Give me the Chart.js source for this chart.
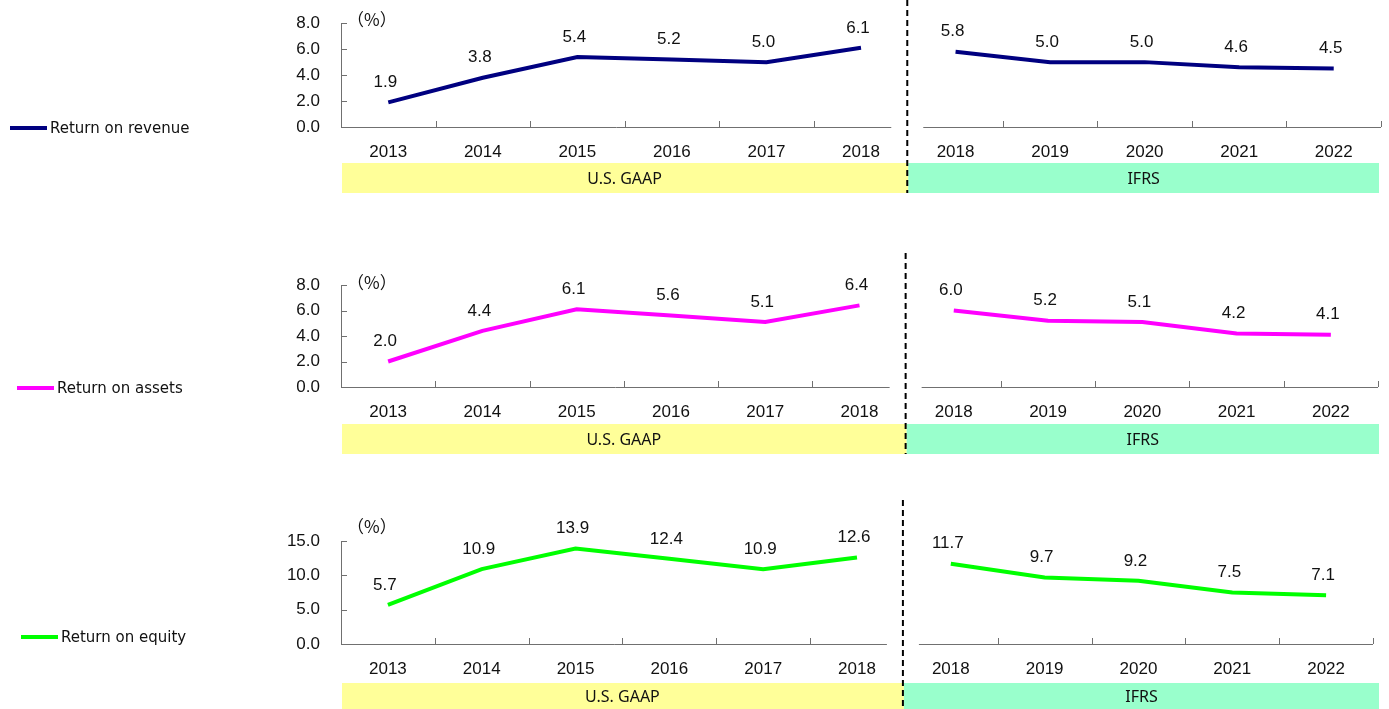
<!DOCTYPE html>
<html>
<head>
<meta charset="utf-8">
<script src="https://cdn.jsdelivr.net/npm/chart.js@4"></script>
<style>
  body { margin: 0; background: #fff; }
  .row { position: absolute; left: 0; width: 1389px; }
</style>
</head>
<body>
<div class="row" style="top:0px;height:230px"><canvas id="revChart"></canvas></div>
<div class="row" style="top:240px;height:240px"><canvas id="assetChart"></canvas></div>
<div class="row" style="top:490px;height:219px"><canvas id="equityChart"></canvas></div>
<script>
// years on each side of the accounting change
const gaapYears = ['2013', '2014', '2015', '2016', '2017', '2018']
const ifrsYears = ['2018', '2019', '2020', '2021', '2022']

// return on revenue (%)
const revenueGaap = [1.9, 3.8, 5.4, 5.2, 5.0, 6.1]
const revenueIfrs = [5.8, 5.0, 5.0, 4.6, 4.5]
// return on assets (%)
const assetsGaap = [2.0, 4.4, 6.1, 5.6, 5.1, 6.4]
const assetsIfrs = [6.0, 5.2, 5.1, 4.2, 4.1]
// return on equity (%)
const equityGaap = [5.7, 10.9, 13.9, 12.4, 10.9, 12.6]
const equityIfrs = [11.7, 9.7, 9.2, 7.5, 7.1]

const yTicksSmall = [0, 2, 4, 6, 8]
const yTicksEquity = [0, 5, 10, 15]

const bandLabels = ['U.S. GAAP', 'IFRS']
const FONT = '"Liberation Sans", Arial, sans-serif'

const labels = gaapYears.concat(ifrsYears)
const pad = (arr, before, after) => Array(before).fill(null).concat(arr, Array(after).fill(null))

// draws axes, split line, bands, value labels and the side legend
const decor = {
    id: 'decor',
    afterDatasetsDraw(chart, args, o) {
        const ctx = chart.ctx
        const area = chart.chartArea
        const x = chart.scales.x
        const y = chart.scales.y
        const step = x.getPixelForValue(1) - x.getPixelForValue(0)
        const split = x.getPixelForValue(gaapYears.length - 1) + step / 2
        ctx.save()

        // bands
        ctx.fillStyle = '#ffff99'
        ctx.fillRect(area.left + 1, o.bandTop, split - area.left - 1, o.bandH)
        ctx.fillStyle = '#99ffcc'
        ctx.fillRect(split, o.bandTop, 1379 - split, o.bandH)
        ctx.fillStyle = '#111'
        ctx.font = '16px "Noto Sans", sans-serif'
        ctx.textAlign = 'center'
        ctx.textBaseline = 'middle'
        ctx.fillText(bandLabels[0], (area.left + split) / 2, o.bandTop + o.bandH / 2 + 1)
        ctx.fillText(bandLabels[1], (split + 1379) / 2, o.bandTop + o.bandH / 2 + 1)

        // axes
        ctx.strokeStyle = '#707070'
        ctx.lineWidth = 1
        ctx.beginPath()
        ctx.moveTo(area.left + 0.5, area.top)
        ctx.lineTo(area.left + 0.5, area.bottom + 0.5)
        ctx.lineTo(split - 17, area.bottom + 0.5)
        ctx.moveTo(split + 15, area.bottom + 0.5)
        ctx.lineTo(area.right, area.bottom + 0.5)
        y.ticks.forEach(t => {
            const py = Math.round(y.getPixelForValue(t.value)) + 0.5
            ctx.moveTo(area.left, py)
            ctx.lineTo(area.left + 6, py)
        })
        for (let i = 1; i <= labels.length; i++) {
            if (i === gaapYears.length) continue
            const px = Math.round(x.getPixelForValue(0) - step / 2 + i * step) + 0.5
            ctx.moveTo(px, area.bottom)
            ctx.lineTo(px, area.bottom - 6)
        }
        ctx.stroke()

        // dashed split line
        ctx.strokeStyle = '#000'
        ctx.lineWidth = 2
        ctx.setLineDash([6, 4])
        ctx.beginPath()
        ctx.moveTo(split - 1, o.dashTop)
        ctx.lineTo(split - 1, o.bandTop + o.bandH)
        ctx.stroke()
        ctx.setLineDash([])

        // unit
        ctx.fillStyle = '#111'
        ctx.font = '17px "Noto Sans CJK JP", sans-serif'
        ctx.textAlign = 'left'
        ctx.fillText('（%）', area.left + 6, o.unitY)

        // value labels
        ctx.font = '17px ' + FONT
        ctx.textAlign = 'center'
        chart.data.datasets.forEach((ds, di) => {
            chart.getDatasetMeta(di).data.forEach((pt, i) => {
                if (ds.data[i] == null) return
                ctx.fillText(ds.data[i].toFixed(1), pt.x - 3, pt.y - 20)
            })
        })

        // legend
        ctx.strokeStyle = o.color
        ctx.lineWidth = 4
        ctx.beginPath()
        ctx.moveTo(o.legX, o.legY)
        ctx.lineTo(o.legX + 37, o.legY)
        ctx.stroke()
        ctx.font = '15px "DejaVu Sans", sans-serif'
        ctx.textAlign = 'left'
        ctx.fillText(o.legend, o.legX + 40, o.legY + 1)
        ctx.restore()
    }
}

function makeChart(id, gaap, ifrs, color, yTicks, o) {
    const ctx = document.getElementById(id).getContext('2d')
    const common = { borderColor: color, borderWidth: 4, pointRadius: 0, tension: 0, spanGaps: false }
    new Chart(ctx, {
        type: 'line',
        data: {
            labels: labels,
            datasets: [
                Object.assign({ data: pad(gaap, 0, ifrsYears.length) }, common),
                Object.assign({ data: pad(ifrs, gaapYears.length, 0) }, common)
            ]
        },
        options: {
            responsive: true,
            maintainAspectRatio: false,
            animation: false,
            events: [],
            layout: { padding: { top: o.top, right: o.right, left: 0, bottom: 0 } },
            plugins: { legend: { display: false }, tooltip: { enabled: false }, decor: o },
            scales: {
                x: {
                    offset: true,
                    grid: { display: false },
                    border: { display: false },
                    ticks: { color: '#111', font: { family: FONT, size: 17 }, padding: 7, maxRotation: 0, autoSkip: false },
                    afterFit: s => { s.height = o.xH }
                },
                y: {
                    min: 0,
                    max: yTicks[yTicks.length - 1],
                    afterBuildTicks: s => { s.ticks = yTicks.map(v => ({ value: v })) },
                    grid: { display: false },
                    border: { display: false },
                    ticks: { color: '#111', font: { family: FONT, size: 17 }, padding: 13, callback: v => v.toFixed(1) },
                    afterFit: s => { s.width = 341 }
                }
            }
        },
        plugins: [decor]
    })
}

makeChart('revChart', revenueGaap, revenueIfrs, '#000080', yTicksSmall,
    { top: 20, right: 8, xH: 103, bandTop: 163, bandH: 30, dashTop: 0, unitY: 20,
      color: '#000080', legend: 'Return on revenue', legX: 10, legY: 128 })
makeChart('assetChart', assetsGaap, assetsIfrs, '#ff00ff', yTicksSmall,
    { top: 45, right: 11, xH: 93, bandTop: 184, bandH: 30, dashTop: 13, unitY: 43,
      color: '#ff00ff', legend: 'Return on assets', legX: 17, legY: 148 })
makeChart('equityChart', equityGaap, equityIfrs, '#00ff00', yTicksEquity,
    { top: 51, right: 16, xH: 65, bandTop: 193, bandH: 26, dashTop: 10, unitY: 37,
      color: '#00ff00', legend: 'Return on equity', legX: 21, legY: 147 })
</script>
</body>
</html>
